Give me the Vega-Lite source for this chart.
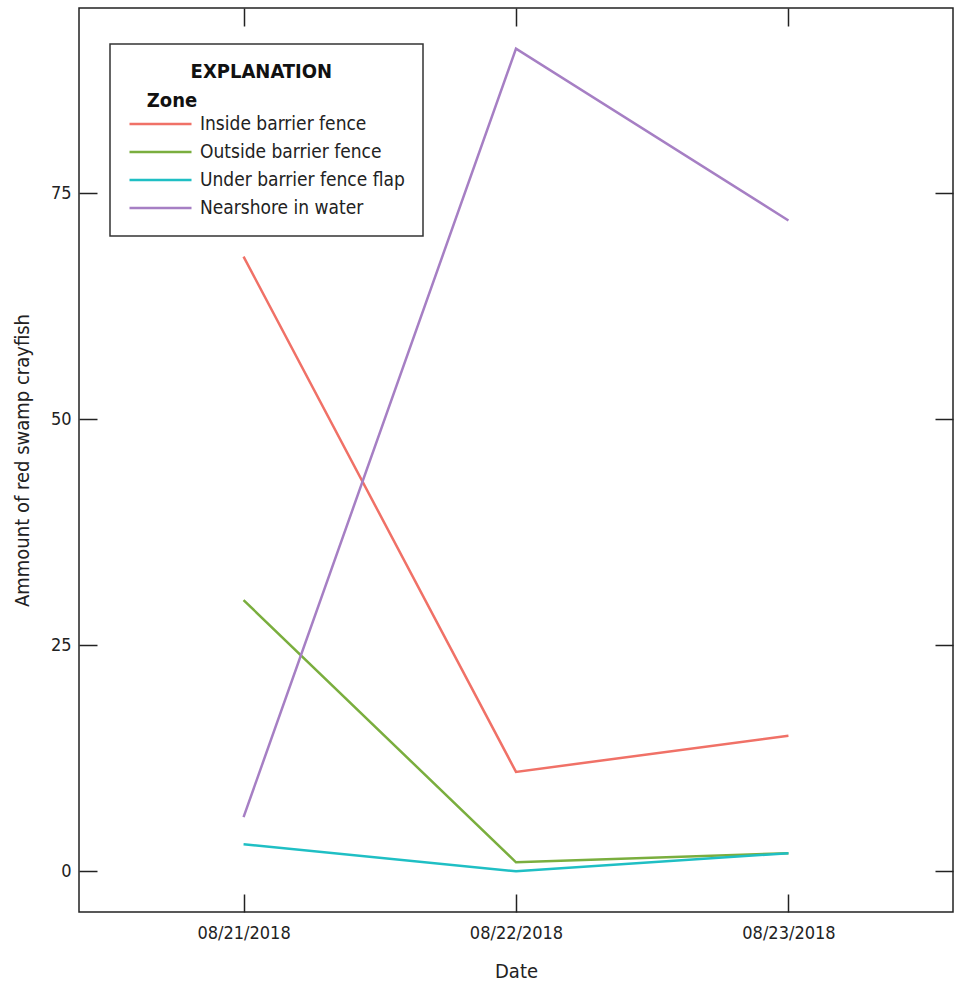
{
  "$schema": "https://vega.github.io/schema/vega-lite/v6.json",
  "width": 874,
  "height": 904,
  "autosize": {"type": "none"},
  "padding": {"left": 79, "top": 8, "right": 4, "bottom": 70},
  "config": {
    "font": "DejaVu Sans Condensed, DejaVu Sans, sans-serif",
    "view": {"stroke": "#222222", "strokeWidth": 1.5},
    "axis": {
      "domain": false,
      "grid": false,
      "tickColor": "#222222",
      "tickWidth": 1.5,
      "tickSize": -18,
      "labelFont": "DejaVu Sans Condensed, DejaVu Sans, sans-serif",
      "labelFontSize": 18,
      "labelColor": "#222222",
      "titleFont": "DejaVu Sans Condensed, DejaVu Sans, sans-serif",
      "titleFontSize": 20,
      "titleFontWeight": "normal",
      "titleColor": "#222222"
    }
  },
  "data": {
    "values": [
      {"date": "08/21/2018", "zone": "Inside barrier fence", "count": 68},
      {"date": "08/22/2018", "zone": "Inside barrier fence", "count": 11},
      {"date": "08/23/2018", "zone": "Inside barrier fence", "count": 15},
      {"date": "08/21/2018", "zone": "Outside barrier fence", "count": 30},
      {"date": "08/22/2018", "zone": "Outside barrier fence", "count": 1},
      {"date": "08/23/2018", "zone": "Outside barrier fence", "count": 2},
      {"date": "08/21/2018", "zone": "Under barrier fence flap", "count": 3},
      {"date": "08/22/2018", "zone": "Under barrier fence flap", "count": 0},
      {"date": "08/23/2018", "zone": "Under barrier fence flap", "count": 2},
      {"date": "08/21/2018", "zone": "Nearshore in water", "count": 6},
      {"date": "08/22/2018", "zone": "Nearshore in water", "count": 91},
      {"date": "08/23/2018", "zone": "Nearshore in water", "count": 72}
    ]
  },
  "resolve": {"axis": {"x": "independent", "y": "independent"}},
  "layer": [
    {
      "mark": {"type": "line", "strokeWidth": 2.5},
      "encoding": {
        "x": {
          "field": "date",
          "type": "ordinal",
          "scale": {"type": "point", "padding": 0.604},
          "axis": {"orient": "bottom", "title": "Date", "labelAngle": 0, "labelPadding": 30, "titlePadding": 19}
        },
        "y": {
          "field": "count",
          "type": "quantitative",
          "scale": {"domain": [-4.5, 95.5], "nice": false, "zero": false},
          "axis": {"orient": "left", "values": [0, 25, 50, 75], "title": "Ammount of red swamp crayfish", "labelPadding": 26, "titlePadding": 18}
        },
        "color": {
          "field": "zone",
          "type": "nominal",
          "sort": ["Inside barrier fence", "Outside barrier fence", "Under barrier fence flap", "Nearshore in water"],
          "scale": {
            "domain": ["Inside barrier fence", "Outside barrier fence", "Under barrier fence flap", "Nearshore in water"],
            "range": ["#F07167", "#7AAE3E", "#1FBFC4", "#A67FC4"]
          },
          "legend": {
            "orient": "none",
            "legendX": 31,
            "legendY": 36,
            "title": ["\u200b\u00a0\u00a0\u00a0\u00a0\u00a0\u00a0\u00a0\u00a0\u00a0\u00a0EXPLANATION", "\u200b\u00a0\u00a0\u00a0Zone"],
            "titleFont": "DejaVu Sans Condensed, DejaVu Sans, sans-serif",
            "titleFontSize": 20,
            "titleFontWeight": "bold",
            "titleColor": "#111111",
            "titleLineHeight": 29,
            "titleAlign": "left",
            "titlePadding": -1,
            "titleLimit": 500,
            "symbolType": "M-1,0H3.96",
            "symbolSize": 625,
            "symbolStrokeWidth": 2.5,
            "labelFont": "DejaVu Sans Condensed, DejaVu Sans, sans-serif",
            "labelFontSize": 19,
            "labelColor": "#222222",
            "labelOffset": 44,
            "rowPadding": 4,
            "padding": 18,
            "strokeColor": "#333333",
            "fillColor": "white",
            "labelLimit": 400,
            "encode": {"legend": {"update": {"strokeWidth": {"value": 1.5}}}}
          }
        }
      }
    },
    {
      "mark": {"type": "line", "opacity": 0},
      "encoding": {
        "x": {
          "field": "date",
          "type": "ordinal",
          "scale": {"type": "point", "padding": 0.604},
          "axis": {"orient": "top", "title": null, "labels": false}
        },
        "y": {
          "field": "count",
          "type": "quantitative",
          "scale": {"domain": [-4.5, 95.5], "nice": false, "zero": false},
          "axis": {"orient": "right", "values": [0, 25, 50, 75], "title": null, "labels": false}
        },
        "detail": {"field": "zone"}
      }
    }
  ]
}
